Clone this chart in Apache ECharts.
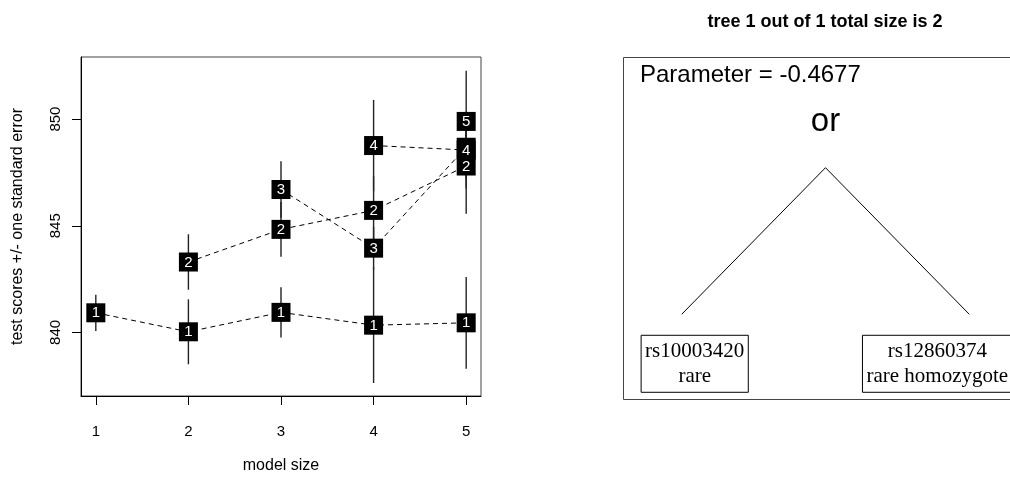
<!DOCTYPE html>
<html>
<head>
<meta charset="utf-8">
<script src="https://cdn.jsdelivr.net/npm/echarts@6/dist/echarts.min.js"></script>
<style>
  html, body { margin: 0; padding: 0; background: #fff; }
  #chart { width: 1010px; height: 479px; }
</style>
</head>
<body>
<div id="chart"></div>
<script>
// Model sizes on the x axis and tick values
const modelSizes = [1, 2, 3, 4, 5];
const xTicks = [1, 2, 3, 4, 5];
const yTicks = [840, 845, 850];

// Cross-validated test scores per model size, one array per tree count (null = not fitted)
const scoreTrees1 = [840.92, 840.03, 840.94, 840.34, 840.45];
const seTrees1    = [0.85, 1.52, 1.18, 2.71, 2.15];
const scoreTrees2 = [null, 843.30, 844.83, 845.72, 847.80];
const seTrees2    = [null, 1.30, 1.28, 1.60, 2.24];
const scoreTrees3 = [null, null, 846.70, 843.95, 848.68];
const seTrees3    = [null, null, 1.32, 1.00, 1.50];
const scoreTrees4 = [null, null, null, 848.76, 848.55];
const seTrees4    = [null, null, null, 2.14, 1.80];
const scoreTrees5 = [null, null, null, null, 849.89];
const seTrees5    = [null, null, null, null, 2.38];

const treeCounts = ['1', '2', '3', '4', '5'];
const scoreByTrees = [scoreTrees1, scoreTrees2, scoreTrees3, scoreTrees4, scoreTrees5];
const seByTrees = [seTrees1, seTrees2, seTrees3, seTrees4, seTrees5];

// Logic tree shown on the right
const treeTitle = 'tree 1 out of 1 total size is 2';
const parameterText = 'Parameter = -0.4677';
const rootOperator = 'or';
const leafLabels = [['rs10003420', 'rare'], ['rs12860374', 'rare homozygote']];

const SANS = '"Liberation Sans", Arial, Helvetica, sans-serif';
const SERIF = '"Liberation Serif", "Times New Roman", serif';

const chart = echarts.init(document.getElementById('chart'), null, { renderer: 'canvas' });

// ---- left panel: score curves with +/- one standard error bars ----
const series = [];
const barData = [];
const markerData = [];
scoreByTrees.forEach((scores, k) => {
  const pts = [];
  scores.forEach((v, i) => {
    if (v == null) return;
    pts.push([modelSizes[i], v]);
    markerData.push([modelSizes[i], v, k]);
    barData.push([modelSizes[i], v - seByTrees[k][i], v + seByTrees[k][i]]);
  });
  // dashed connector for this number of trees
  series.push({
    type: 'line',
    name: treeCounts[k],
    xAxisIndex: 0, yAxisIndex: 0,
    data: pts,
    symbol: 'none',
    animation: false,
    silent: true,
    z: 3,
    lineStyle: { color: '#000', width: 1, type: [5, 4] }
  });
});

// vertical error bars
series.unshift({
  type: 'custom',
  xAxisIndex: 0, yAxisIndex: 0,
  data: barData,
  encode: { x: 0, y: [1, 2] },
  animation: false,
  silent: true,
  z: 2,
  renderItem: (params, api) => {
    const lo = api.coord([api.value(0), api.value(1)]);
    const hi = api.coord([api.value(0), api.value(2)]);
    return {
      type: 'line',
      shape: { x1: lo[0], y1: lo[1], x2: hi[0], y2: hi[1] },
      style: { stroke: '#222', lineWidth: 1.4 }
    };
  }
});

// numbered square markers; later tree counts are stacked on top of earlier ones
series.push({
  type: 'custom',
  xAxisIndex: 0, yAxisIndex: 0,
  data: markerData,
  encode: { x: 0, y: 1 },
  animation: false,
  silent: true,
  z: 4,
  renderItem: (params, api) => {
    const p = api.coord([api.value(0), api.value(1)]);
    const k = api.value(2);
    const half = 9.5;
    const order = params.dataIndex * 2;
    return {
      type: 'group',
      children: [
        {
          type: 'rect', z2: order,
          shape: { x: p[0] - half, y: p[1] - half, width: half * 2, height: half * 2 },
          style: { fill: '#000' }
        },
        {
          type: 'text', z2: order + 1,
          x: p[0], y: p[1] + 0.5,
          style: {
            text: treeCounts[k], fill: '#fff', font: '15px ' + SANS,
            align: 'center', verticalAlign: 'middle'
          }
        }
      ]
    };
  }
});

// ---- right panel: the logic tree ----
const leafX = leafLabels.map((_, i) => i + 1);
const rootX = leafX.reduce((a, b) => a + b, 0) / leafX.length;
const edgeData = leafX.map(x => [rootX, 0, x, 1]);
const leafShift = [13, -32];   // label boxes sit a little off the branch ends

// panel frame; its right side runs past the page edge
series.push({
  type: 'custom',
  xAxisIndex: 1, yAxisIndex: 1,
  data: [[rootX, 0]],
  animation: false, silent: true,
  renderItem: (params) => {
    const cs = params.coordSys;
    return {
      type: 'rect',
      shape: { x: cs.x + 0.5, y: cs.y + 0.5, width: cs.width + 30, height: cs.height },
      style: { fill: 'none', stroke: '#444', lineWidth: 1 }
    };
  }
});

series.push({
  type: 'custom',
  xAxisIndex: 1, yAxisIndex: 1,
  data: edgeData,
  animation: false, silent: true,
  renderItem: (params, api) => {
    const a = api.coord([api.value(0), api.value(1)]);
    const b = api.coord([api.value(2), api.value(3)]);
    return {
      type: 'line',
      shape: { x1: a[0], y1: a[1], x2: b[0], y2: b[1] },
      style: { stroke: '#000', lineWidth: 1 }
    };
  }
});

series.push({
  type: 'custom',
  xAxisIndex: 1, yAxisIndex: 1,
  data: leafX.map((x, i) => [x, 1, i]),
  animation: false, silent: true,
  renderItem: (params, api) => {
    const i = api.value(2);
    const p = api.coord([api.value(0), api.value(1)]);
    return {
      type: 'text',
      x: p[0] + leafShift[i],
      y: p[1] + 21,
      style: {
        text: leafLabels[i].join('\n'),
        font: '21px ' + SERIF,
        fill: '#000',
        align: 'center',
        verticalAlign: 'top',
        lineHeight: 25,
        padding: [4, 4, 3, 4],
        borderColor: '#000',
        borderWidth: 1
      }
    };
  }
});

series.push({
  type: 'custom',
  xAxisIndex: 1, yAxisIndex: 1,
  data: [[rootX, 0]],
  animation: false, silent: true,
  renderItem: (params, api) => {
    const p = api.coord([api.value(0), api.value(1)]);
    return {
      type: 'text',
      x: p[0], y: p[1] - 46,
      style: {
        text: rootOperator, font: '33px ' + SANS, fill: '#000',
        align: 'center', verticalAlign: 'middle'
      }
    };
  }
});

const option = {
  backgroundColor: '#fff',
  animation: false,
  grid: [
    { left: 81, top: 57, width: 400, height: 343, show: true, borderColor: '#444', borderWidth: 1, containLabel: false },
    { left: 623, top: 57, right: 0, height: 342, show: false, containLabel: false }
  ],
  xAxis: [
    {
      type: 'value', gridIndex: 0, min: 0.84, max: 5.16,
      name: 'model size', nameLocation: 'middle', nameGap: 62,
      nameTextStyle: { fontSize: 16, fontFamily: SANS, color: '#000' },
      axisLine: { show: true, onZero: false, lineStyle: { color: '#000', width: 1 } },
      axisTick: { show: true, length: 9, customValues: xTicks, lineStyle: { color: '#000' } },
      axisLabel: { customValues: xTicks, margin: 28, fontSize: 15, fontFamily: SANS, color: '#000' },
      splitLine: { show: false }
    },
    { type: 'value', gridIndex: 1, min: 0.7959, max: 2.1415, show: false }
  ],
  yAxis: [
    {
      type: 'value', gridIndex: 0, min: 837.02, max: 852.91,
      name: 'test scores +/- one standard error', nameLocation: 'middle', nameGap: 55,
      nameTextStyle: { fontSize: 16, fontFamily: SANS, color: '#000' },
      axisLine: { show: true, onZero: false, lineStyle: { color: '#000', width: 1 } },
      axisTick: { show: true, length: 9, customValues: yTicks, lineStyle: { color: '#000' } },
      axisLabel: { customValues: yTicks, rotate: 90, margin: 18, fontSize: 15, fontFamily: SANS, color: '#000' },
      splitLine: { show: false }
    },
    { type: 'value', gridIndex: 1, inverse: true, min: -0.7551, max: 1.5778, show: false }
  ],
  graphic: [
    {
      type: 'text', x: 825, y: 22,
      style: { text: treeTitle, font: 'bold 18px ' + SANS, fill: '#000', align: 'center', verticalAlign: 'middle' }
    },
    {
      type: 'text', x: 640, y: 75,
      style: { text: parameterText, font: '24px ' + SANS, fill: '#000', align: 'left', verticalAlign: 'middle' }
    }
  ],
  series: series
};

chart.setOption(option);
</script>
</body>
</html>
